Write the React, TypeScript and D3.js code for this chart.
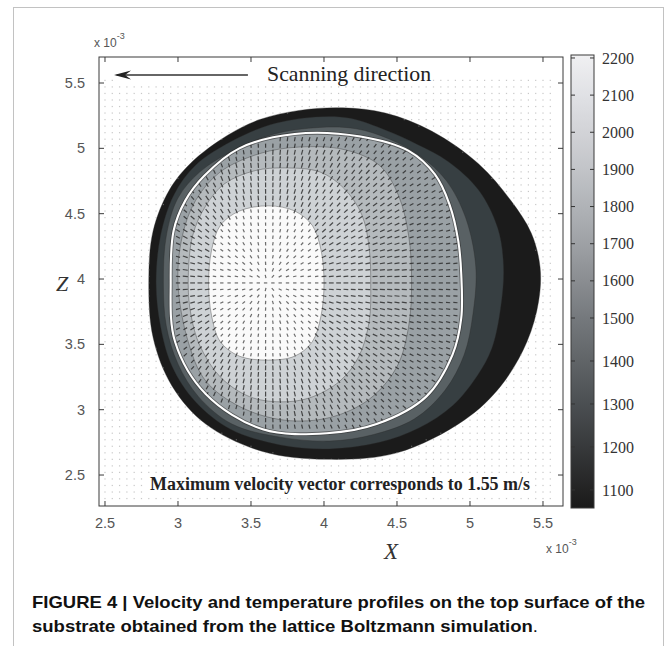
import { useEffect, useRef } from "react"
import * as d3 from "d3"

type Pt = [number, number]

// axis ticks, both axes in units of 1e-3 m
const xTicks = [2.5, 3, 3.5, 4, 4.5, 5, 5.5]
const zTicks = [2.5, 3, 3.5, 4, 4.5, 5, 5.5]
const cbTicks = [1100, 1200, 1300, 1400, 1500, 1600, 1700, 1800, 1900, 2000, 2100, 2200]

// colorbar colours
const cbStops = [1058, 1100, 1200, 1300, 1400, 1500, 1600, 1700, 1800, 1900, 2000, 2100, 2208]
const cbColors = ["#1a1a1a", "#232323", "#37393b", "#4b4f52", "#606467", "#75797d", "#8a8d91", "#9ea1a5", "#b0b3b7", "#c2c4c8", "#d2d3d7", "#e0e1e5", "#f0f0f2"]

// isotherm outlines (x, z), outermost first
const iso1100: Pt[] = [[2.80,3.99],[2.83,4.37],[2.94,4.68],[3.09,4.89],[3.34,5.10],[3.56,5.22],[3.83,5.29],[4.13,5.31],[4.42,5.27],[4.74,5.13],[5.06,4.88],[5.28,4.60],[5.42,4.35],[5.48,4.09],[5.47,3.83],[5.39,3.52],[5.21,3.18],[4.96,2.92],[4.50,2.67],[4.02,2.62],[3.58,2.68],[3.19,2.89],[2.96,3.18],[2.83,3.55]]
const iso1250: Pt[] = [[2.85,3.97],[2.88,4.33],[2.97,4.64],[3.12,4.87],[3.36,5.05],[3.63,5.18],[3.94,5.24],[4.18,5.23],[4.42,5.14],[4.64,5.03],[4.85,4.90],[5.06,4.68],[5.19,4.39],[5.23,4.09],[5.21,3.78],[5.15,3.47],[5.05,3.26],[4.88,3.03],[4.65,2.86],[4.38,2.75],[4.04,2.70],[3.70,2.73],[3.36,2.85],[3.12,3.06],[2.96,3.33],[2.88,3.64]]
const iso1400: Pt[] = [[2.90,3.97],[2.92,4.33],[3.00,4.62],[3.15,4.82],[3.39,4.99],[3.66,5.11],[3.97,5.16],[4.22,5.15],[4.45,5.07],[4.66,4.94],[4.84,4.75],[4.97,4.47],[5.04,4.09],[5.02,3.73],[4.96,3.42],[4.83,3.15],[4.62,2.93],[4.34,2.81],[4.04,2.76],[3.70,2.79],[3.37,2.89],[3.14,3.10],[3.00,3.35],[2.92,3.64]]
const iso1600: Pt[] = [[2.95,3.99],[2.97,4.37],[3.05,4.60],[3.18,4.79],[3.42,5.00],[3.80,5.11],[4.25,5.09],[4.58,4.98],[4.76,4.80],[4.86,4.57],[4.92,4.29],[4.94,4.04],[4.94,3.70],[4.88,3.42],[4.70,3.10],[4.36,2.89],[4.02,2.82],[3.58,2.85],[3.19,3.12],[2.98,3.52]]
const iso1750: Pt[] = [[3.00,3.97],[3.03,4.33],[3.12,4.60],[3.29,4.82],[3.56,4.96],[3.83,5.01],[4.14,4.99],[4.38,4.87],[4.51,4.64],[4.58,4.33],[4.60,3.99],[4.58,3.64],[4.50,3.33],[4.31,3.08],[4.04,2.94],[3.73,2.92],[3.43,3.02],[3.19,3.22],[3.07,3.52]]
const iso1900: Pt[] = [[3.07,3.96],[3.10,4.33],[3.19,4.56],[3.32,4.73],[3.53,4.83],[3.73,4.85],[3.97,4.82],[4.14,4.69],[4.26,4.49],[4.31,4.23],[4.32,3.96],[4.31,3.68],[4.24,3.41],[4.11,3.22],[3.90,3.09],[3.70,3.06],[3.49,3.10],[3.29,3.25],[3.15,3.49],[3.09,3.72]]
const iso2100: Pt[] = [[3.21,3.97],[3.23,4.22],[3.29,4.41],[3.42,4.52],[3.62,4.56],[3.80,4.52],[3.92,4.41],[3.98,4.22],[4.00,3.97],[3.98,3.72],[3.92,3.52],[3.80,3.41],[3.62,3.38],[3.42,3.41],[3.29,3.52],[3.23,3.72]]

const isotherms = [iso1100, iso1250, iso1400, iso1600, iso1750, iso1900, iso2100]
const bandFill = ["#1b1b1b", "#373f42", "#596164", "#9aa1a5", "#b5babd", "#ced2d5", "#fafafa"]

// relative velocity per band (0 = outside the pool), flow goes outward from the hot spot
const bandSpeed = [0.05, 0.05, 0.1, 0.2, 0.75, 0.9, 0.85, 0.6]
const hotSpot: Pt = [3.61, 3.97]
const quiverStep = 0.05

const serif = "'Liberation Serif', 'Times New Roman', serif"
const sans = "'Liberation Sans', Arial, sans-serif"

export default function App() {
  const svgRef = useRef<SVGSVGElement>(null)

  useEffect(() => {
    if (!svgRef.current) return
    const svg = d3.select(svgRef.current)
    svg.selectAll("*").remove()

    const x = d3.scaleLinear().domain([2.459, 5.637]).range([99, 563])
    const z = d3.scaleLinear().domain([2.263, 5.699]).range([506, 57])
    const cbY = d3.scaleLinear().domain([2208, 1500, 1058]).range([55, 318, 508])
    const [left, right] = x.range()
    const [bottom, top] = z.range()

    // figure frame
    svg.append("rect")
      .attr("x", 13.5).attr("y", 7.5).attr("width", 650).attr("height", 700)
      .attr("fill", "#fff").attr("stroke", "#c2c2c2")

    const line = d3.line<Pt>()
      .x((d) => x(d[0]))
      .y((d) => z(d[1]))
      .curve(d3.curveCatmullRomClosed.alpha(0.5))

    // filled isotherms
    const contours = svg.append("g")
    isotherms.forEach((pts, i) => {
      contours.append("path")
        .attr("d", line(pts))
        .attr("fill", bandFill[i])
        .attr("stroke", i === 3 ? "none" : "#2a2a2a")
        .attr("stroke-width", 0.6)
        .attr("stroke-opacity", 0.6)
    })

    // velocity vectors
    const polys = isotherms.map((pts) => pts.map((p) => [x(p[0]), z(p[1])] as [number, number]))
    const hx = x(hotSpot[0])
    const hy = z(hotSpot[1])
    const gridX = d3.range(2.5, 5.6, quiverStep)
    const gridZ = d3.range(2.32, 5.57, quiverStep)
    const quiver = svg.append("g")
    gridX.forEach((gx) => {
      gridZ.forEach((gz) => {
        const px = x(gx)
        const py = z(gz)
        let band = 0
        polys.forEach((p) => { if (d3.polygonContains(p, [px, py])) band++ })
        if (band === 0) {
          quiver.append("rect")
            .attr("x", px - 0.6).attr("y", py - 0.6)
            .attr("width", 1.2).attr("height", 1.2)
            .attr("fill", "#9a9a9a").attr("opacity", 0.55)
          return
        }
        if (band < 4) return
        const dx = px - hx
        const dy = py - hy
        const dist = Math.hypot(dx, dy) || 1
        const len = bandSpeed[band] * 5.6
        const ux = (dx / dist) * len / 2
        const uy = (dy / dist) * len / 2
        quiver.append("line")
          .attr("x1", px - ux).attr("y1", py - uy)
          .attr("x2", px + ux).attr("y2", py + uy)
          .attr("stroke", band === 7 ? "#4a4a4a" : "#262626")
          .attr("stroke-width", 1.2)
          .attr("opacity", 0.8)
      })
    })

    // melt-pool boundary (white isotherm)
    svg.append("path").attr("d", line(iso1600))
      .attr("fill", "none").attr("stroke", "#2a2a2a").attr("stroke-width", 3.8).attr("stroke-opacity", 0.55)
    svg.append("path").attr("d", line(iso1600))
      .attr("fill", "none").attr("stroke", "#fff").attr("stroke-width", 2.1)

    // annotations
    const ann = svg.append("g")
    ann.append("rect")
      .attr("x", x(2.57)).attr("y", z(5.63))
      .attr("width", x(4.72) - x(2.57)).attr("height", z(5.51) - z(5.63) + 4)
      .attr("fill", "#fff")
    const ay = z(5.561)
    ann.append("line")
      .attr("x1", x(3.479)).attr("x2", x(2.58))
      .attr("y1", ay).attr("y2", ay)
      .attr("stroke", "#333").attr("stroke-width", 1.4)
    const tip = x(2.562)
    ann.append("path")
      .attr("d", `M${tip},${ay} L${tip + 17},${ay - 4.5} L${tip + 11},${ay} L${tip + 17},${ay + 4.5} Z`)
      .attr("fill", "#222")
    ann.append("text")
      .attr("x", x(3.61)).attr("y", z(5.515))
      .attr("font-family", serif).attr("font-size", 21).attr("fill", "#222")
      .attr("textLength", 164).attr("lengthAdjust", "spacingAndGlyphs")
      .text("Scanning direction")

    ann.append("rect")
      .attr("x", x(2.78)).attr("y", z(2.5))
      .attr("width", x(5.44) - x(2.78)).attr("height", z(2.36) - z(2.5))
      .attr("fill", "#fff")
    ann.append("text")
      .attr("x", x(4.11)).attr("y", z(2.385))
      .attr("text-anchor", "middle")
      .attr("font-family", serif).attr("font-size", 18).attr("font-weight", "bold").attr("fill", "#222")
      .attr("textLength", 380).attr("lengthAdjust", "spacingAndGlyphs")
      .text("Maximum velocity vector corresponds to 1.55 m/s")

    // axes box and ticks
    const axes = svg.append("g")
    axes.append("rect")
      .attr("x", left).attr("y", top).attr("width", right - left).attr("height", bottom - top)
      .attr("fill", "none").attr("stroke", "#3a3a3a").attr("stroke-width", 1)
    xTicks.forEach((t) => {
      axes.append("line").attr("x1", x(t)).attr("x2", x(t)).attr("y1", bottom).attr("y2", bottom - 5).attr("stroke", "#3a3a3a")
      axes.append("line").attr("x1", x(t)).attr("x2", x(t)).attr("y1", top).attr("y2", top + 5).attr("stroke", "#3a3a3a")
      axes.append("text")
        .attr("x", x(t)).attr("y", bottom + 22)
        .attr("text-anchor", "middle")
        .attr("font-family", sans).attr("font-size", 14.5).attr("fill", "#555")
        .text(String(t))
    })
    zTicks.forEach((t) => {
      axes.append("line").attr("x1", left).attr("x2", left + 5).attr("y1", z(t)).attr("y2", z(t)).attr("stroke", "#3a3a3a")
      axes.append("line").attr("x1", right).attr("x2", right - 5).attr("y1", z(t)).attr("y2", z(t)).attr("stroke", "#3a3a3a")
      axes.append("text")
        .attr("x", left - 14).attr("y", z(t)).attr("dy", "0.35em")
        .attr("text-anchor", "end")
        .attr("font-family", sans).attr("font-size", 14.5).attr("fill", "#555")
        .text(String(t))
    })

    // exponent labels
    const expLabel = (ex: number, ey: number) => {
      const t = axes.append("text")
        .attr("x", ex).attr("y", ey)
        .attr("font-family", sans).attr("font-size", 12).attr("fill", "#555")
      t.append("tspan").text("x 10")
      t.append("tspan").attr("dy", -8).attr("font-size", 9).text("-3")
    }
    expLabel(left - 5, top - 10)
    expLabel(right - 17, bottom + 47)

    axes.append("text")
      .attr("x", 62).attr("y", z(3.97)).attr("dy", "0.35em")
      .attr("text-anchor", "middle")
      .attr("font-family", serif).attr("font-style", "italic").attr("font-size", 22).attr("fill", "#333")
      .text("Z")
    axes.append("text")
      .attr("x", x(4.46)).attr("y", bottom + 53)
      .attr("text-anchor", "middle")
      .attr("font-family", serif).attr("font-style", "italic").attr("font-size", 23).attr("fill", "#333")
      .text("X")

    // colorbar
    const cbX = 571
    const cbW = 23
    const [cbTop, cbBottom] = [cbY(2208), cbY(1058)]
    const grad = svg.append("defs").append("linearGradient")
      .attr("id", "cbGrad").attr("x1", 0).attr("y1", 1).attr("x2", 0).attr("y2", 0)
    cbStops.forEach((v, i) => {
      grad.append("stop")
        .attr("offset", (cbBottom - cbY(v)) / (cbBottom - cbTop))
        .attr("stop-color", cbColors[i])
    })
    const cb = svg.append("g")
    cb.append("rect")
      .attr("x", cbX).attr("y", cbTop).attr("width", cbW).attr("height", cbBottom - cbTop)
      .attr("fill", "url(#cbGrad)").attr("stroke", "#3a3a3a").attr("stroke-width", 1)
    cbTicks.forEach((t) => {
      const ty = cbY(t)
      cb.append("line").attr("x1", cbX).attr("x2", cbX + 4).attr("y1", ty).attr("y2", ty).attr("stroke", "#333")
      cb.append("line").attr("x1", cbX + cbW).attr("x2", cbX + cbW - 4).attr("y1", ty).attr("y2", ty).attr("stroke", "#333")
      cb.append("text")
        .attr("x", cbX + cbW + 8).attr("y", ty).attr("dy", "0.35em")
        .attr("font-family", serif).attr("font-size", 16).attr("fill", "#333")
        .text(String(t))
    })

    // caption
    const cap = svg.append("g")
      .attr("font-family", sans).attr("font-weight", "bold").attr("font-size", 17).attr("fill", "#111")
    cap.append("text")
      .attr("x", 32).attr("y", 608)
      .attr("textLength", 613).attr("lengthAdjust", "spacingAndGlyphs")
      .text("FIGURE 4 | Velocity and temperature profiles on the top surface of the")
    const l2 = cap.append("text")
      .attr("x", 32).attr("y", 632)
      .attr("textLength", 506).attr("lengthAdjust", "spacingAndGlyphs")
    l2.append("tspan").text("substrate obtained from the lattice Boltzmann simulation")
    l2.append("tspan").attr("font-weight", "normal").text(".")
  }, [])

  return (
    <svg
      ref={svgRef}
      width={667}
      height={646}
      style={{ position: "absolute", left: 0, top: 0, background: "#fff", display: "block" }}
    />
  )
}
